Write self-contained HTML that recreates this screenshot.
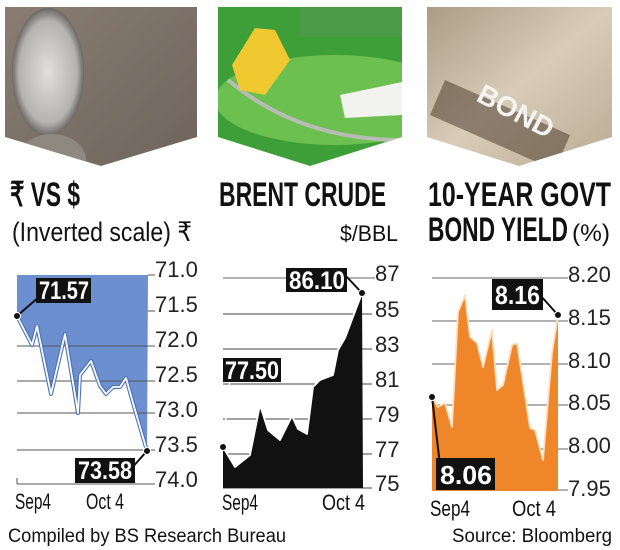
<!DOCTYPE html>
<html><head><meta charset="utf-8"><style>
html,body{margin:0;padding:0;background:#fff;}
svg{display:block;}
text{font-family:"Liberation Sans Narrow","Liberation Sans",sans-serif;}
</style></head><body>
<svg width="620" height="550" viewBox="0 0 620 550" xmlns="http://www.w3.org/2000/svg">
<defs>
<linearGradient id="g1" x1="0" y1="0" x2="1" y2="1"><stop offset="0" stop-color="#8a7e74"/><stop offset="1" stop-color="#6e645b"/></linearGradient>
<radialGradient id="coin" cx="0.5" cy="0.5" r="0.5"><stop offset="0" stop-color="#e0e0de"/><stop offset="0.8" stop-color="#b5b3b0"/><stop offset="1" stop-color="#6a6765"/></radialGradient>
<linearGradient id="g2" x1="0" y1="0" x2="0" y2="1"><stop offset="0" stop-color="#6ab84a"/><stop offset="1" stop-color="#3fa037"/></linearGradient>
<linearGradient id="g3" x1="0" y1="0" x2="1" y2="1"><stop offset="0" stop-color="#a89880"/><stop offset="0.5" stop-color="#d8ccb8"/><stop offset="1" stop-color="#b8a890"/></linearGradient>
<clipPath id="c1"><polygon points="5,7 197,7 197,137 101,166 5,137"/></clipPath>
<clipPath id="c2"><polygon points="218,7 402,7 402,137 310,166 218,137"/></clipPath>
<clipPath id="c3"><polygon points="427,7 612,7 612,137 519,166 427,137"/></clipPath>
</defs>
<!-- photos -->
<g clip-path="url(#c1)">
<rect x="0" y="0" width="200" height="170" fill="url(#g1)"/>
<ellipse cx="48" cy="72" rx="36" ry="64" fill="url(#coin)"/>
<ellipse cx="52" cy="160" rx="34" ry="26" fill="#8f8880"/>
</g>
<g clip-path="url(#c2)">
<rect x="210" y="0" width="200" height="170" fill="#3e9e38"/>
<ellipse cx="335" cy="100" rx="120" ry="45" fill="#6cc050"/>
<path d="M228,80 Q300,140 402,140" stroke="#b8bcb4" stroke-width="4" fill="none"/>
<polygon points="232,65 255,28 275,30 290,60 265,95 240,90" fill="#f0c830"/>
<polygon points="340,95 402,82 402,115 345,118" fill="#f2f2ee"/>
<rect x="300" y="7" width="102" height="30" fill="#4a9a48"/>
</g>
<g clip-path="url(#c3)">
<rect x="420" y="0" width="200" height="170" fill="url(#g3)"/>
<polygon points="445,80 570,135 555,170 430,115" fill="#5a4a3a" opacity="0.6"/>
<text x="478" y="112" font-size="28" font-weight="bold" fill="#f4f4f0" transform="rotate(28 500 100)">BOND</text>
</g>
<!-- titles -->
<text x="10" y="206" font-size="34" font-weight="bold" fill="#111" textLength="70" lengthAdjust="spacingAndGlyphs">₹ VS $</text>
<text x="12" y="241" font-size="27" fill="#111" textLength="180" lengthAdjust="spacingAndGlyphs">(Inverted scale) ₹</text>
<text x="219" y="206" font-size="34" font-weight="bold" fill="#111" textLength="167" lengthAdjust="spacingAndGlyphs">BRENT CRUDE</text>
<text x="340" y="241" font-size="22" fill="#111" textLength="58" lengthAdjust="spacingAndGlyphs">$/BBL</text>
<text x="428" y="206" font-size="34" font-weight="bold" fill="#111" textLength="183" lengthAdjust="spacingAndGlyphs">10-YEAR GOVT</text>
<text x="428" y="241" font-size="34" font-weight="bold" fill="#111" textLength="140" lengthAdjust="spacingAndGlyphs">BOND YIELD</text>
<text x="572" y="241" font-size="24" fill="#111" textLength="38" lengthAdjust="spacingAndGlyphs">(%)</text>

<!-- chart 1 -->
<g>
<polygon points="17,275 148,275 147,451 133,403 126,378 120,387 113,387 106,394 100,386 91,361 80,375 78,413 65,334 51,394 37,326 32,345 17,316" fill="#6b8fcf"/>
<g stroke="#555" stroke-width="1">
<line x1="17" y1="346" x2="148" y2="346"/><line x1="17" y1="381" x2="148" y2="381"/>
<line x1="17" y1="413" x2="148" y2="413"/><line x1="17" y1="450" x2="148" y2="450"/>
<line x1="17" y1="484" x2="148" y2="484"/><line x1="17" y1="478" x2="17" y2="484"/>
</g>
<polyline points="17,316 32,345 37,326 51,394 65,334 78,413 80,375 91,361 100,386 106,394 113,387 120,387 126,378 133,403 147,451" fill="none" stroke="#4a70b8" stroke-width="4" stroke-linejoin="round"/>
<polyline points="17,316 32,345 37,326 51,394 65,334 78,413 80,375 91,361 100,386 106,394 113,387 120,387 126,378 133,403 147,451" fill="none" stroke="#fff" stroke-width="1.8" stroke-linejoin="round"/>
<g stroke="#555" stroke-width="1">
<line x1="148" y1="275" x2="155" y2="275"/><line x1="148" y1="311" x2="155" y2="311"/><line x1="148" y1="346" x2="155" y2="346"/><line x1="148" y1="381" x2="155" y2="381"/><line x1="148" y1="413" x2="155" y2="413"/><line x1="148" y1="450" x2="155" y2="450"/><line x1="148" y1="484" x2="155" y2="484"/>
</g>
<g font-size="22" fill="#222">
<text x="155" y="277">71.0</text><text x="155" y="312">71.5</text><text x="155" y="347">72.0</text><text x="155" y="382">72.5</text><text x="155" y="417">73.0</text><text x="155" y="452">73.5</text><text x="155" y="487">74.0</text>
</g>
<line x1="17" y1="316" x2="40" y2="296" stroke="#111" stroke-width="2"/>
<rect x="36" y="278" width="55" height="25" fill="#111"/>
<text x="39" y="299" font-size="25" font-weight="bold" fill="#fff" textLength="50" lengthAdjust="spacingAndGlyphs">71.57</text>
<line x1="147" y1="451" x2="130" y2="470" stroke="#111" stroke-width="2"/>
<rect x="75" y="458" width="60" height="25" fill="#111"/>
<text x="78" y="479" font-size="25" font-weight="bold" fill="#fff" textLength="54" lengthAdjust="spacingAndGlyphs">73.58</text>
<circle cx="17" cy="316" r="3.5" fill="#111" stroke="#fff" stroke-width="1"/>
<circle cx="147" cy="451" r="3.5" fill="#111" stroke="#fff" stroke-width="1"/>
<text x="15" y="509" font-size="22" fill="#111" textLength="36" lengthAdjust="spacingAndGlyphs">Sep4</text>
<text x="86" y="509" font-size="22" fill="#111" textLength="38" lengthAdjust="spacingAndGlyphs">Oct 4</text>
</g>

<!-- chart 2 -->
<g>
<g stroke="#444" stroke-width="1">
<line x1="223" y1="314" x2="372" y2="314"/><line x1="223" y1="349" x2="372" y2="349"/><line x1="223" y1="384" x2="372" y2="384"/><line x1="223" y1="419" x2="372" y2="419"/><line x1="223" y1="454" x2="372" y2="454"/><line x1="223" y1="488" x2="372" y2="488"/>
</g>
<line x1="223" y1="278" x2="375" y2="278" stroke="#999" stroke-width="1.5"/>
<polygon points="223,447 235,467 250,455 260,405 268,430 280,440 292,416 298,429 307,434 313,387 320,380 333,375 338,350 345,338 362,293 363,488 223,488" fill="#111"/>
<polyline points="223,447 235,467 250,455 260,405 268,430 280,440 292,416 298,429 307,434 313,387 320,380 333,375 338,350 345,338 362,293" fill="none" stroke="#fff" stroke-width="1.8" stroke-linejoin="round"/>
<g font-size="22" fill="#222">
<text x="375" y="281">87</text><text x="375" y="317">85</text><text x="375" y="352">83</text><text x="375" y="387">81</text><text x="375" y="422">79</text><text x="375" y="457">77</text><text x="375" y="491">75</text>
</g>
<line x1="362" y1="293" x2="345" y2="275" stroke="#111" stroke-width="2"/>
<rect x="286" y="268" width="61" height="24" fill="#111"/>
<text x="289" y="289" font-size="25" font-weight="bold" fill="#fff" textLength="56" lengthAdjust="spacingAndGlyphs">86.10</text>
<line x1="223" y1="447" x2="230" y2="378" stroke="#fff" stroke-width="1.5"/>
<rect x="223" y="358" width="58" height="24" fill="#111"/>
<text x="225" y="379" font-size="25" font-weight="bold" fill="#fff" textLength="54" lengthAdjust="spacingAndGlyphs">77.50</text>
<circle cx="223" cy="447" r="3.5" fill="#111" stroke="#fff" stroke-width="1"/>
<circle cx="362" cy="293" r="3.5" fill="#111" stroke="#fff" stroke-width="1"/>
<text x="222" y="510" font-size="22" fill="#111" textLength="36" lengthAdjust="spacingAndGlyphs">Sep4</text>
<text x="322" y="510" font-size="22" fill="#111" textLength="43" lengthAdjust="spacingAndGlyphs">Oct 4</text>
</g>

<!-- chart 3 -->
<g>
<g stroke="#666" stroke-width="1">
<line x1="432" y1="278" x2="568" y2="278"/><line x1="432" y1="321" x2="568" y2="321"/><line x1="432" y1="364" x2="568" y2="364"/><line x1="432" y1="405" x2="568" y2="405"/><line x1="432" y1="449" x2="568" y2="449"/><line x1="432" y1="490" x2="568" y2="490"/>
</g>
<polygon points="432,397 438,407 445,403 452,427 458,312 465,295 470,337 477,343 483,367 492,330 497,390 503,385 512,345 517,343 530,428 535,430 543,460 552,353 558,315 558,491 432,491" fill="#f0862a"/>
<polyline points="432,397 438,407 445,403 452,427 458,312 465,295 470,337 477,343 483,367 492,330 497,390 503,385 512,345 517,343 530,428 535,430 543,460 552,353 558,315" fill="none" stroke="#fde0c0" stroke-width="1.8" stroke-linejoin="round"/>
<g font-size="22" fill="#222">
<text x="568" y="282">8.20</text><text x="568" y="325">8.15</text><text x="568" y="368">8.10</text><text x="568" y="410">8.05</text><text x="568" y="453">8.00</text><text x="568" y="496">7.95</text>
</g>
<line x1="558" y1="315" x2="540" y2="295" stroke="#111" stroke-width="2"/>
<rect x="492" y="279" width="51" height="31" fill="#111"/>
<text x="495" y="304" font-size="26" font-weight="bold" fill="#fff" textLength="45" lengthAdjust="spacingAndGlyphs">8.16</text>
<line x1="432" y1="397" x2="440" y2="465" stroke="#111" stroke-width="2"/>
<rect x="436" y="458" width="59" height="32" fill="#111"/>
<text x="440" y="484" font-size="26" font-weight="bold" fill="#fff" textLength="52" lengthAdjust="spacingAndGlyphs">8.06</text>
<circle cx="432" cy="397" r="3.5" fill="#111" stroke="#fff" stroke-width="1"/>
<circle cx="558" cy="315" r="3.5" fill="#111" stroke="#fff" stroke-width="1"/>
<text x="430" y="516" font-size="22" fill="#111" textLength="40" lengthAdjust="spacingAndGlyphs">Sep4</text>
<text x="512" y="516" font-size="22" fill="#111" textLength="44" lengthAdjust="spacingAndGlyphs">Oct 4</text>
</g>

<text x="8" y="542" font-size="19" fill="#111" textLength="278" lengthAdjust="spacingAndGlyphs">Compiled by BS Research Bureau</text>
<text x="452" y="542" font-size="19" fill="#111" textLength="160" lengthAdjust="spacingAndGlyphs">Source: Bloomberg</text>
</svg>
</body></html>
